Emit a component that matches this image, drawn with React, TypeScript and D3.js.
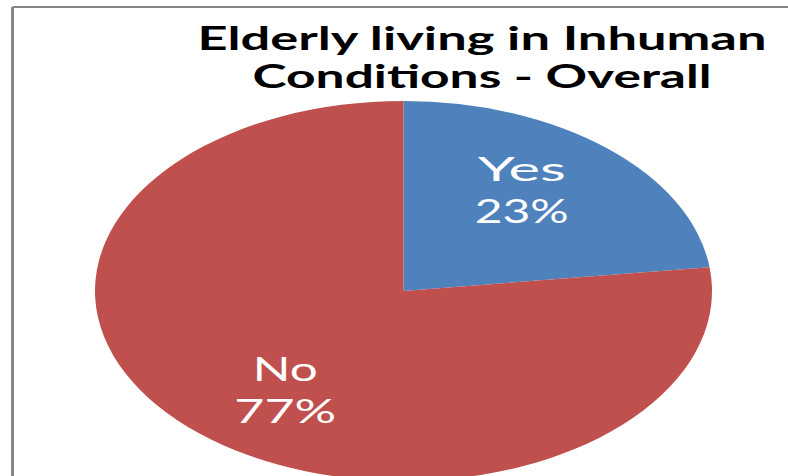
import React from "react";
import * as d3 from "d3";

const categories = ["Yes", "No"];
const values = [23, 77];
const titleLines = ["Elderly living in Inhuman", "Conditions - Overall"];

const W = 788;
const H = 476;
const colors = ["#4F81BD", "#C0504D"];

export default function App() {
  const cx = 403.5;
  const cy = 291;
  const ry = 190;
  const rx = 308.5;
  const sx = rx / ry;

  const pie = d3.pie<number>().sort(null).value((d) => d);
  const arcs = pie(values);
  const arc = d3.arc<d3.PieArcDatum<number>>().innerRadius(0).outerRadius(ry);
  const labelArc = d3
    .arc<d3.PieArcDatum<number>>()
    .innerRadius(124)
    .outerRadius(124);

  const labelOffset = -0.095; // radians, shift labels slightly counter-clockwise
  const labelWidths = [
    [88, 94],
    [65, 102],
  ];
  const titleWidths = [569, 459];
  const titleBaselines = [50, 88];

  return (
    <svg
      width={W}
      height={H}
      style={{ position: "fixed", left: 0, top: 0, display: "block", background: "#fff" }}
    >
      <rect x={0} y={0} width={W} height={H} fill="#fff" />
      {/* chart border */}
      <line x1={12.5} y1={7} x2={W} y2={7} stroke="#868686" strokeWidth={2} />
      <line x1={12.5} y1={7} x2={12.5} y2={H} stroke="#868686" strokeWidth={3} />

      {titleLines.map((t, i) => (
        <text
          key={t}
          x={482}
          y={titleBaselines[i]}
          textAnchor="middle"
          fontFamily="Lato, 'Open Sans', sans-serif"
          fontWeight={700}
          fontSize={33}
          fill="#000"
          textLength={titleWidths[i]}
          lengthAdjust="spacingAndGlyphs"
        >
          {t}
        </text>
      ))}

      <g transform={`translate(${cx},${cy}) scale(${sx},1)`}>
        {arcs.map((a, i) => (
          <path key={categories[i]} d={arc(a) || ""} fill={colors[i]} />
        ))}
      </g>

      {arcs.map((a, i) => {
        const shifted = {
          ...a,
          startAngle: a.startAngle + labelOffset,
          endAngle: a.endAngle + labelOffset,
        };
        const [lx, ly] = labelArc.centroid(shifted);
        const x = cx + lx * sx;
        const y = cy + ly;
        const total = d3.sum(values);
        const pct = Math.round((values[i] / total) * 100) + "%";
        return (
          <g key={categories[i]} fill="#fff" fontFamily="Lato, 'Open Sans', sans-serif" fontSize={32} textAnchor="middle">
            <text x={x} y={y - 10} textLength={labelWidths[i][0]} lengthAdjust="spacingAndGlyphs">
              {categories[i]}
            </text>
            <text x={x} y={y + 32} textLength={labelWidths[i][1]} lengthAdjust="spacingAndGlyphs">
              {pct}
            </text>
          </g>
        );
      })}
    </svg>
  );
}
